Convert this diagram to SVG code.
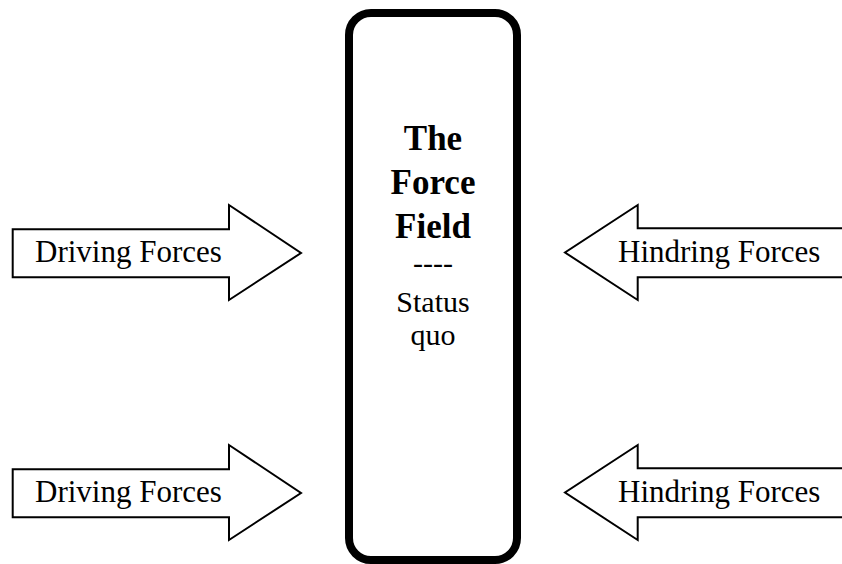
<svg xmlns="http://www.w3.org/2000/svg" width="842" height="564" viewBox="0 0 842 564">
<style>
.arrow{fill:#fff;stroke:#000;stroke-width:2;stroke-linejoin:miter}
.lbl{font-family:"Liberation Serif","Times New Roman",serif;font-size:31px;fill:#000}
.big{font-family:"Liberation Serif","Times New Roman",serif;font-size:35px;font-weight:bold;fill:#000;text-anchor:middle}
.small{font-family:"Liberation Serif","Times New Roman",serif;font-size:30px;fill:#000;text-anchor:middle}
</style>
<rect width="842" height="564" fill="#fff"/>
<g id="field">
<rect x="349" y="13" width="168" height="547" rx="22" ry="22" fill="#fff" stroke="#000" stroke-width="8"/>
<text class="big" x="433" y="150">The</text>
<text class="big" x="433" y="194">Force</text>
<text class="big" x="433" y="238">Field</text>
<text class="small" x="433" y="273">----</text>
<text class="small" x="433" y="311.5">Status</text>
<text class="small" x="433" y="345">quo</text>
</g>
<g id="connectors">
<g id="driving1">
<polygon class="arrow" points="12.7,229.3 229,229.3 229,205 301,253 229,300 229,277.3 12.7,277.3"/>
<text class="lbl" x="35" y="262">Driving Forces</text>
</g>
<g id="driving2">
<polygon class="arrow" points="12.7,469.3 229,469.3 229,445 301,493 229,540 229,517.3 12.7,517.3"/>
<text class="lbl" x="35" y="502">Driving Forces</text>
</g>
<g id="hindring1">
<polygon class="arrow" points="846,228.3 637.7,228.3 637.7,205 565,252.5 637.7,300 637.7,277.3 846,277.3"/>
<text class="lbl" x="618" y="262">Hindring Forces</text>
</g>
<g id="hindring2">
<polygon class="arrow" points="846,468.3 637.7,468.3 637.7,445 565,492.5 637.7,540 637.7,517.3 846,517.3"/>
<text class="lbl" x="618" y="502">Hindring Forces</text>
</g>
</g>
</svg>
